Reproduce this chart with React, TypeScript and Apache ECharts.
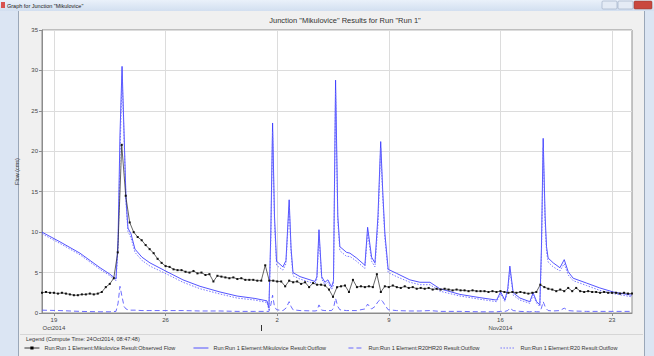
import React, { useEffect, useRef } from "react";
import * as echarts from "echarts";

// x values are days since 18 Oct 2014 00:00
const X_MIN = 0.25;
const X_MAX = 37.25;

const dayTickValues = [1, 8, 15, 22, 29, 36];
const dayTickLabels = ["19", "26", "2", "9", "16", "23"];
const monthLabelValues = [1, 29];
const monthLabels = ["Oct2014", "Nov2014"];
const monthBoundaryValues = [14];

const seriesNames = [
  "Run:Run 1 Element:Mikulovice Result:Observed Flow",
  "Run:Run 1 Element:Mikulovice Result:Outflow",
  "Run:Run 1 Element:R20HR20 Result:Outflow",
  "Run:Run 1 Element:R20 Result:Outflow",
];

// Observed flow, 6-hourly from day 0.25
const obsStart = 0.25;
const obsStep = 0.25;
const observedFlow = [
  2.5, 2.6, 2.5, 2.5,
  2.4, 2.5, 2.4, 2.3,
  2.2, 2.2, 2.3, 2.3,
  2.4, 2.3, 2.4, 2.6,
  3.2, 3.6, 4.3, 7.5,
  20.8, 14.5, 11.2, 10.0,
  9.4, 9.0, 8.4, 7.9,
  7.4, 6.7, 6.2, 5.8,
  5.7, 5.4, 5.3, 5.3,
  5.1, 5.0, 5.2, 4.9,
  5.0, 4.7, 4.8, 3.9,
  4.6, 4.5, 4.4, 4.3,
  4.4, 4.2, 4.3, 4.1,
  4.1, 4.1, 4.0, 4.0,
  5.9, 4.0, 4.0, 3.9,
  3.9, 3.3, 4.0, 3.8,
  3.9, 3.6, 3.8, 3.2,
  3.7, 3.5, 3.5, 3.4,
  2.9, 2.0, 3.2, 3.3,
  3.4, 2.6, 4.1, 3.2,
  3.3, 3.2, 3.3, 3.2,
  4.8, 2.6, 3.3, 3.2,
  3.4, 3.2, 3.1, 3.3,
  3.1, 3.2, 3.0, 3.1,
  3.0, 3.1, 2.9, 3.0,
  2.9, 3.0, 2.9, 2.8,
  2.9, 2.8, 2.8, 2.7,
  2.8, 2.7, 2.7, 2.7,
  2.6, 2.7, 2.6, 2.7,
  2.6, 2.5, 2.6, 2.5,
  2.6, 2.5, 2.4, 2.5,
  2.6, 3.5, 3.2, 3.0,
  2.9, 2.7, 2.9, 2.7,
  3.1, 2.7, 3.1, 2.7,
  2.6, 2.7, 2.6, 2.6,
  2.5, 2.6, 2.5, 2.5,
  2.5, 2.4, 2.5, 2.4,
  2.4,
];

// Simulated series share one time list
const simTimes = [
  0.25, 1.38, 2.63, 3.89, 4.51, 4.89, 5.02, 5.14, 5.27, 5.40,
  5.52, 5.64, 5.83, 6.08, 6.52, 7.02, 8.09, 9.09, 10.16, 11.41,
  12.48, 13.60, 14.36, 14.48, 14.60, 14.71, 14.83, 14.96, 15.36, 15.55,
  15.75, 15.87, 15.99, 16.43, 17.37, 17.49, 17.62, 17.79, 17.99, 18.18,
  18.41, 18.53, 18.66, 18.80, 18.93, 19.35, 19.56, 19.98, 20.50, 20.67,
  20.92, 21.13, 21.32, 21.49, 21.62, 21.75, 21.96, 22.49, 23.32, 23.95,
  24.58, 25.20, 26.46, 27.71, 28.76, 29.01, 29.28, 29.46, 29.59, 29.80,
  30.22, 30.84, 31.05, 31.27, 31.47, 31.57, 31.68, 31.80, 31.89, 31.99,
  32.31, 32.73, 33.00, 33.25, 33.56, 34.40, 35.23, 36.07, 37.24,
];

const mikuloviceOutflow = [
  10.0, 8.8, 7.4, 5.6, 4.8, 4.2, 9.0, 22.0, 30.5, 22.0,
  14.0, 10.5, 9.8, 7.9, 6.9, 6.2, 5.1, 4.1, 3.3, 2.6,
  2.1, 1.8, 1.5, 0.6, 10.0, 23.5, 12.0, 6.4, 5.7, 6.5,
  14.0, 8.0, 5.0, 4.5, 3.9, 4.5, 10.3, 4.5, 3.8, 4.1,
  3.2, 4.0, 28.8, 12.0, 8.2, 7.5, 7.4, 6.8, 5.9, 10.6,
  6.9, 6.2, 12.0, 21.2, 15.0, 9.9, 5.4, 4.9, 4.1, 3.8,
  3.8, 3.0, 2.3, 1.9, 1.6, 2.6, 1.6, 3.0, 5.8, 2.5,
  1.85, 1.4, 2.5, 1.4, 1.0, 8.0, 21.6, 12.0, 8.2, 6.8,
  6.2, 5.6, 6.6, 5.1, 4.3, 3.7, 3.1, 2.6, 2.2,
];

const r20hr20Outflow = [
  0.35, 0.3, 0.2, 0.15, 0.15, 0.2, 1.2, 3.3, 2.0, 0.8,
  0.5, 0.4, 0.35, 0.35, 0.3, 0.3, 0.3, 0.3, 0.25, 0.25,
  0.2, 0.2, 0.2, 0.2, 1.0, 2.2, 0.8, 0.4, 0.3, 0.6,
  1.4, 0.8, 0.4, 0.3, 0.25, 0.3, 1.0, 0.35, 0.3, 0.3,
  0.3, 0.6, 1.8, 0.8, 0.4, 0.3, 0.3, 0.3, 0.5, 1.1,
  0.5, 0.8, 1.4, 1.7, 1.4, 1.0, 0.4, 0.3, 0.25, 0.25,
  0.3, 0.2, 0.2, 0.15, 0.15, 0.2, 0.2, 0.3, 0.6, 0.3,
  0.2, 0.15, 0.2, 0.15, 0.15, 0.6, 1.4, 0.8, 0.5, 0.3,
  0.25, 0.3, 0.6, 0.3, 0.25, 0.2, 0.2, 0.2, 0.2,
];

const r20Outflow = [
  9.8, 8.6, 7.2, 5.4, 4.6, 4.0, 8.0, 19.5, 29.3, 21.5,
  13.6, 10.1, 9.3, 7.5, 6.5, 5.8, 4.8, 3.8, 3.0, 2.35,
  1.85, 1.6, 1.3, 0.4, 9.0, 22.5, 11.2, 5.9, 5.3, 6.1,
  13.2, 7.5, 4.6, 4.2, 3.6, 4.2, 9.6, 4.2, 3.5, 3.8,
  2.9, 3.4, 27.5, 11.3, 7.7, 7.0, 7.0, 6.4, 5.5, 10.0,
  6.4, 5.7, 11.0, 20.4, 14.3, 9.3, 5.0, 4.5, 3.8, 3.5,
  3.5, 2.7, 2.1, 1.7, 1.4, 2.4, 1.4, 2.7, 5.4, 2.2,
  1.6, 1.2, 2.2, 1.2, 0.8, 7.0, 20.5, 11.2, 7.6, 6.3,
  5.7, 5.2, 6.1, 4.7, 4.0, 3.4, 2.8, 2.4, 2.0,
];

const FONT = "'Liberation Sans', Arial, sans-serif";

export default function App() {
  const ref = useRef<HTMLDivElement>(null);
  useEffect(() => {
    if (!ref.current) return;
    const chart = echarts.init(ref.current, undefined, { renderer: "svg" });

    const obsData = observedFlow.map((v, i) => [obsStart + i * obsStep, v]);
    const sim = (arr: number[]) => simTimes.map((t, i) => [t, arr[i]]);

    const legendLefts = [24, 193, 348, 500];

    const option: any = {
      animation: false,
      backgroundColor: "#f0f0f0",
      textStyle: { fontFamily: FONT },
      graphic: [
        {
          type: "rect",
          shape: { x: 0, y: 0, width: 654, height: 11 },
          style: {
            fill: new echarts.graphic.LinearGradient(0, 0, 0, 1, [
              { offset: 0, color: "#eaf1fa" },
              { offset: 1, color: "#d2dff0" },
            ]),
          },
          silent: true,
        },
        { type: "rect", shape: { x: 1, y: 2, width: 4, height: 6 }, style: { fill: "#d9534f" }, silent: true },
        {
          type: "text",
          x: 7,
          y: 5.5,
          style: { text: 'Graph for Junction "Mikulovice"', fontSize: 5.5, fontFamily: FONT, fill: "#1a1a1a", verticalAlign: "middle" },
          silent: true,
        },
        { type: "rect", shape: { x: 602, y: 1, width: 15, height: 8, r: 1 }, style: { fill: "#e4ebf5", stroke: "#8a9bb5", lineWidth: 0.5 }, silent: true },
        { type: "rect", shape: { x: 618, y: 1, width: 15, height: 8, r: 1 }, style: { fill: "#e4ebf5", stroke: "#8a9bb5", lineWidth: 0.5 }, silent: true },
        { type: "rect", shape: { x: 634, y: 1, width: 18, height: 8, r: 1 }, style: { fill: "#c9483e", stroke: "#8a3a33", lineWidth: 0.5 }, silent: true },
        { type: "rect", shape: { x: 0, y: 11, width: 18, height: 345 }, style: { fill: "#dbe5f3" }, silent: true },
        { type: "line", shape: { x1: 18.5, y1: 11, x2: 18.5, y2: 356 }, style: { stroke: "#9aa7b8", lineWidth: 1 }, silent: true },
        { type: "rect", shape: { x: 645, y: 11, width: 9, height: 345 }, style: { fill: "#dbe5f3" }, silent: true },
        { type: "line", shape: { x1: 644.5, y1: 11, x2: 644.5, y2: 356 }, style: { stroke: "#9aa7b8", lineWidth: 1 }, silent: true },
        {
          type: "text",
          x: 345,
          y: 20,
          style: { text: 'Junction "Mikulovice" Results for Run "Run 1"', fontSize: 7.5, fontFamily: FONT, fill: "#333", align: "center", verticalAlign: "middle" },
          silent: true,
        },
        { type: "line", shape: { x1: 20, y1: 334.5, x2: 643, y2: 334.5 }, style: { stroke: "#d6d6d6", lineWidth: 1 }, silent: true },
        {
          type: "text",
          x: 26,
          y: 339,
          style: { text: "Legend (Compute Time: 24Oct2014, 08:47:48)", fontSize: 5.5, fontFamily: FONT, fill: "#333", verticalAlign: "middle" },
          silent: true,
        },
      ],
      legend: seriesNames.map((name, i) => ({
        data: [name],
        left: legendLefts[i],
        top: 345,
        padding: 0,
        itemWidth: 15,
        itemHeight: 4,
        selectedMode: false,
        itemStyle: i === 0 ? undefined : { opacity: 0 },
        lineStyle: { width: 0.9 },
        textStyle: { fontSize: 5.5, color: "#333", fontFamily: FONT },
      })),
      grid: {
        left: 42,
        top: 30,
        right: 22,
        bottom: 43,
        show: true,
        backgroundColor: "#ffffff",
        borderColor: "#8c8c8c",
        borderWidth: 1,
      },
      xAxis: [
        {
          type: "value",
          min: X_MIN,
          max: X_MAX,
          position: "bottom",
          axisLine: { show: true, lineStyle: { color: "#8c8c8c" } },
          axisTick: { show: true, length: 3, customValues: dayTickValues, lineStyle: { color: "#8c8c8c" } },
          axisLabel: {
            customValues: dayTickValues,
            formatter: (v: number) => {
              const i = dayTickValues.indexOf(v);
              return i >= 0 ? dayTickLabels[i] : "";
            },
            fontSize: 6,
            color: "#444",
            margin: 4,
          },
          splitLine: { show: true, lineStyle: { color: "#dcdcdc" } },
        },
        {
          type: "value",
          min: X_MIN,
          max: X_MAX,
          position: "bottom",
          offset: 12,
          axisLine: { show: false },
          axisTick: { show: true, length: 6, customValues: monthBoundaryValues, lineStyle: { color: "#333" } },
          axisLabel: {
            customValues: monthLabelValues,
            formatter: (v: number) => {
              const i = monthLabelValues.indexOf(v);
              return i >= 0 ? monthLabels[i] : "";
            },
            fontSize: 6,
            color: "#444",
            margin: 0,
          },
          splitLine: { show: false },
        },
      ],
      yAxis: {
        type: "value",
        min: 0,
        max: 35,
        interval: 5,
        axisLine: { show: true, lineStyle: { color: "#8c8c8c" } },
        axisTick: { show: true, length: 3, lineStyle: { color: "#8c8c8c" } },
        axisLabel: { fontSize: 6, color: "#444", margin: 4 },
        splitLine: { show: true, lineStyle: { color: "#dcdcdc" } },
        name: "Flow (cms)",
        nameLocation: "middle",
        nameGap: 15,
        nameTextStyle: { fontSize: 5.5, color: "#333" },
      },
      series: [
        {
          name: seriesNames[1],
          type: "line",
          data: sim(mikuloviceOutflow),
          symbol: "none",
          lineStyle: { color: "#4040ff", width: 0.9 },
          itemStyle: { color: "#4040ff" },
          z: 2,
        },
        {
          name: seriesNames[2],
          type: "line",
          data: sim(r20hr20Outflow),
          symbol: "none",
          lineStyle: { color: "#5a5aff", width: 0.9, type: [5, 3] },
          itemStyle: { color: "#5a5aff" },
          z: 2,
        },
        {
          name: seriesNames[3],
          type: "line",
          data: sim(r20Outflow),
          symbol: "none",
          lineStyle: { color: "#6a6aff", width: 0.9, type: [1.5, 1.5] },
          itemStyle: { color: "#6a6aff" },
          z: 2,
        },
        {
          name: seriesNames[0],
          type: "line",
          data: obsData,
          symbol: "rect",
          symbolSize: 2,
          showSymbol: true,
          lineStyle: { color: "#222", width: 0.7 },
          itemStyle: { color: "#111" },
          z: 3,
        },
      ],
    };
    chart.setOption(option);
    return () => chart.dispose();
  }, []);

  return <div ref={ref} style={{ position: "absolute", left: 0, top: 0, width: 654, height: 356 }} />;
}
